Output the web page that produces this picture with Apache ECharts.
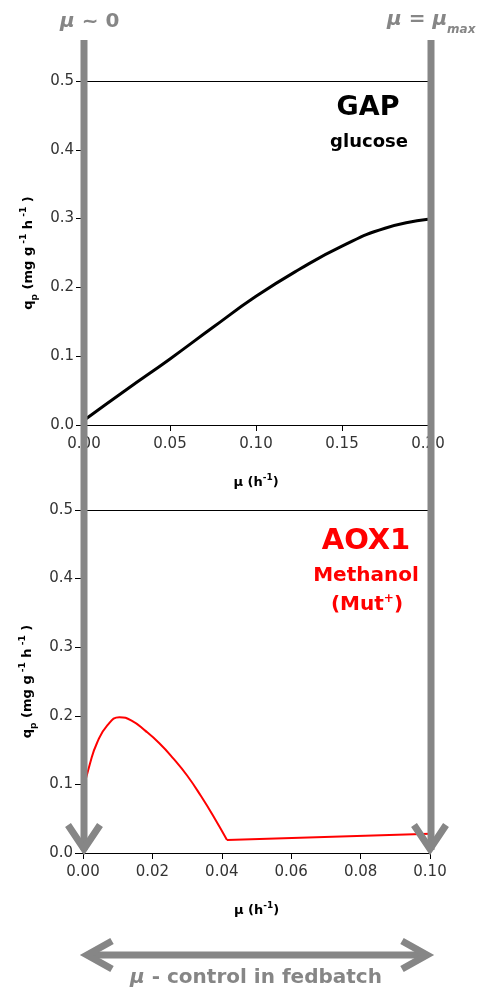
<!DOCTYPE html>
<html><head><meta charset="utf-8">
<script src="https://cdn.jsdelivr.net/npm/echarts@6/dist/echarts.min.js"></script>
<style>html,body{margin:0;padding:0;background:#fff}#c{width:478px;height:993px}</style>
</head><body><div id="c"></div>
<script>
// GAP (glucose): mu (h-1) vs qp
const gapMu = [0.000, 0.025, 0.050, 0.075, 0.100, 0.125, 0.150, 0.175, 0.200];
const gapQp = [0.007, 0.052, 0.096, 0.142, 0.187, 0.226, 0.260, 0.286, 0.299];
// AOX1 (methanol, Mut+): curved part then straight part
const aoxMuA = [0.000, 0.002, 0.004, 0.007, 0.0105, 0.014, 0.018, 0.022, 0.026, 0.030, 0.034, 0.038, 0.0415];
const aoxQpA = [0.090, 0.130, 0.160, 0.186, 0.198, 0.193, 0.178, 0.160, 0.138, 0.113, 0.083, 0.050, 0.019];
const aoxMuB = [0.0415, 0.100];
const aoxQpB = [0.019, 0.028];
const topXTicks = [0, 0.05, 0.10, 0.15, 0.20];
const botXTicks = [0, 0.02, 0.04, 0.06, 0.08, 0.10];
const yTicks = [0, 0.1, 0.2, 0.3, 0.4, 0.5];

const F = 'DejaVu Sans';
const GREY = '#868686';
const pair = (xs, ys) => xs.map((x, i) => [x, ys[i]]);

const chart = echarts.init(document.getElementById('c'));
const rich = {
  b: {fontFamily: F, fontWeight: 'bold', fontSize: 13, color: '#000'},
  sup: {fontFamily: F, fontWeight: 'bold', fontSize: 9, color: '#000', verticalAlign: 'top', lineHeight: 20},
  sub: {fontFamily: F, fontWeight: 'bold', fontSize: 9, color: '#000', verticalAlign: 'bottom', lineHeight: 20}
};
function xAx(idx, max, interval) {
  return {
    type: 'value', gridIndex: idx, min: 0, max: max, interval: interval,
    axisLine: {show: true, lineStyle: {color: '#000', width: 1}},
    axisTick: {show: true, length: 6, lineStyle: {color: '#000'}},
    axisLabel: {fontFamily: F, fontSize: 15, color: '#333', margin: 12, formatter: v => v.toFixed(2)},
    splitLine: {show: false},
    name: '{b|μ (h}{sup|-1}{b|)}', nameLocation: 'middle', nameGap: 48,
    nameTextStyle: {rich: rich}
  };
}
function yAx(idx) {
  return {
    type: 'value', gridIndex: idx, min: 0, max: 0.5, interval: 0.1,
    axisLine: {show: true, lineStyle: {color: '#000', width: 1}},
    axisTick: {show: true, length: 8, lineStyle: {color: '#000'}},
    axisLabel: {fontFamily: F, fontSize: 15, color: '#333', margin: 10, formatter: v => v.toFixed(1)},
    splitLine: {show: false},
    name: '{b|q}{sub|p}{b| (mg g}{sup| -1}{b| h}{sup| -1}{b| )}', nameLocation: 'middle', nameGap: 45,
    nameRotate: 90, nameTextStyle: {rich: rich}
  };
}
const topLine = {silent: true, symbol: 'none', label: {show: false},
  lineStyle: {color: '#000', type: 'solid', width: 1}, data: [{yAxis: 0.5}]};

function chevronV(x, y) {
  return {type: 'polyline', z: 101, shape: {points: [[x - 16, y - 28], [x, y - 4], [x + 16, y - 28]]},
    style: {stroke: GREY, lineWidth: 7, fill: null, lineJoin: 'miter'}};
}

chart.setOption({
  animation: false,
  grid: [
    {left: 84, width: 344, top: 81, height: 344},
    {left: 83, width: 347, top: 510, height: 343}
  ],
  xAxis: [xAx(0, 0.2, 0.05), xAx(1, 0.1, 0.02)],
  yAxis: [yAx(0), yAx(1)],
  series: [
    {type: 'line', xAxisIndex: 0, yAxisIndex: 0, data: pair(gapMu, gapQp), smooth: true, symbol: 'none',
      lineStyle: {color: '#000', width: 3}, markLine: topLine},
    {type: 'line', xAxisIndex: 1, yAxisIndex: 1, data: pair(aoxMuA, aoxQpA), smooth: true, symbol: 'none',
      lineStyle: {color: '#ff0000', width: 2}, markLine: topLine},
    {type: 'line', xAxisIndex: 1, yAxisIndex: 1, data: pair(aoxMuB, aoxQpB), smooth: false, symbol: 'none',
      lineStyle: {color: '#ff0000', width: 2}}
  ],
  graphic: [
    // vertical grey bars with arrowheads
    {type: 'line', z: 100, shape: {x1: 84, y1: 40, x2: 84, y2: 850}, style: {stroke: GREY, lineWidth: 7}},
    {type: 'line', z: 100, shape: {x1: 431, y1: 40, x2: 431, y2: 850}, style: {stroke: GREY, lineWidth: 7}},
    chevronV(84, 853), chevronV(430, 853),
    // horizontal double arrow
    {type: 'line', z: 100, shape: {x1: 88, y1: 955, x2: 425, y2: 955}, style: {stroke: GREY, lineWidth: 7}},
    {type: 'polyline', z: 101, shape: {points: [[112, 941], [87, 955], [112, 969]]},
      style: {stroke: GREY, lineWidth: 7, fill: null, lineJoin: 'miter'}},
    {type: 'polyline', z: 101, shape: {points: [[402, 941], [427, 955], [402, 969]]},
      style: {stroke: GREY, lineWidth: 7, fill: null, lineJoin: 'miter'}},
    // grey labels
    {type: 'text', left: 60, top: 12, z: 102, style: {
      text: '{i|μ}{n| ~ 0}', rich: {
        i: {fontFamily: F, fontWeight: 'bold', fontStyle: 'italic', fontSize: 20, fill: GREY},
        n: {fontFamily: F, fontWeight: 'bold', fontSize: 20, fill: GREY}}}},
    {type: 'text', left: 387, top: 10, z: 102, style: {
      text: '{i|μ}{n| = }{i|μ}{s|max}', rich: {
        i: {fontFamily: F, fontWeight: 'bold', fontStyle: 'italic', fontSize: 20, fill: GREY, lineHeight: 26, verticalAlign: 'top'},
        n: {fontFamily: F, fontWeight: 'bold', fontSize: 20, fill: GREY, lineHeight: 26, verticalAlign: 'top'},
        s: {fontFamily: F, fontWeight: 'bold', fontStyle: 'italic', fontSize: 12, fill: GREY, lineHeight: 26, verticalAlign: 'bottom'}}}},
    {type: 'text', x: 256, y: 978, z: 102, style: {
      text: '{i|μ}{n| - control in fedbatch}', align: 'center', verticalAlign: 'middle', rich: {
        i: {fontFamily: F, fontWeight: 'bold', fontStyle: 'italic', fontSize: 20, fill: GREY},
        n: {fontFamily: F, fontWeight: 'bold', fontSize: 20, fill: GREY}}}},
    // panel titles
    {type: 'text', x: 368, y: 108, z: 50, style: {text: 'GAP', align: 'center', verticalAlign: 'middle',
      fontFamily: F, fontWeight: 'bold', fontSize: 27, fill: '#000'}},
    {type: 'text', x: 369, y: 142, z: 50, style: {text: 'glucose', align: 'center', verticalAlign: 'middle',
      fontFamily: F, fontWeight: 'bold', fontSize: 18, fill: '#000'}},
    {type: 'text', x: 366, y: 541, z: 50, style: {text: 'AOX1', align: 'center', verticalAlign: 'middle',
      fontFamily: F, fontWeight: 'bold', fontSize: 29, fill: '#ff0000'}},
    {type: 'text', x: 366, y: 576, z: 50, style: {text: 'Methanol', align: 'center', verticalAlign: 'middle',
      fontFamily: F, fontWeight: 'bold', fontSize: 20, fill: '#ff0000'}},
    {type: 'text', x: 367, y: 605, z: 50, style: {text: '{n|(Mut}{s|+}{n|)}', align: 'center', verticalAlign: 'middle',
      rich: {n: {fontFamily: F, fontWeight: 'bold', fontSize: 20, fill: '#ff0000', lineHeight: 24},
             s: {fontFamily: F, fontWeight: 'bold', fontSize: 12, fill: '#ff0000', lineHeight: 24, verticalAlign: 'top'}}}}
  ]
});
</script></body></html>
